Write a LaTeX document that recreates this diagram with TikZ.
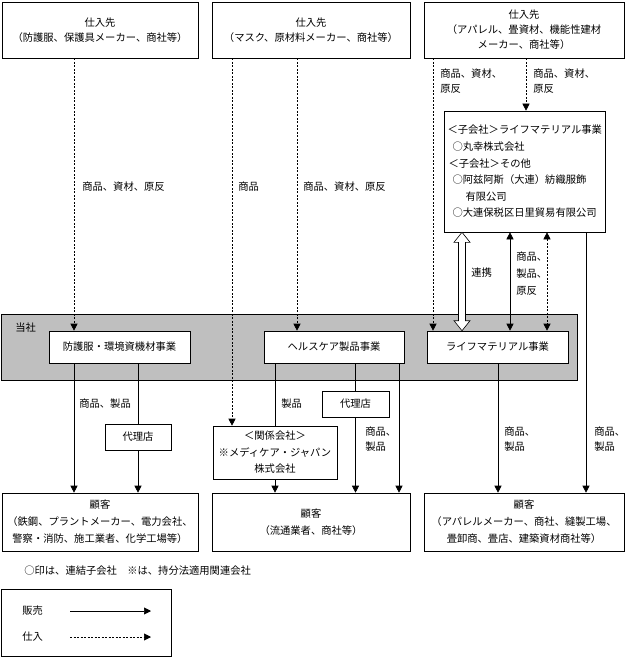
\documentclass[tikz,border=0pt]{standalone}
\usepackage{fontspec}
\setmainfont{Noto Sans CJK JP}
\usetikzlibrary{arrows.meta,calc}

\tikzset{
  box/.style={draw, fill=white, align=center, inner sep=1pt},
  biz/.style={box, minimum height=32pt},
  sell/.style={-{Triangle[length=7pt,width=7pt]}},
  buy/.style={-{Triangle[length=7pt,width=7pt]}, dash pattern=on 2pt off 1.5pt},
  sellboth/.style={{Triangle[length=7pt,width=7pt]}-{Triangle[length=7pt,width=7pt]}},
  buyboth/.style={sellboth, dash pattern=on 2pt off 1.5pt},
  lbl/.style={anchor=west, inner sep=0, align=left},
}

\begin{document}
\begin{tikzpicture}[x=1pt,y=-1pt,line width=0.6pt,font=\fontsize{10.3}{15}\selectfont]
	\useasboundingbox (0,0) rectangle (626,658);

	% Suppliers
	\node[box,minimum width=196pt,minimum height=56pt] (sup1) at (100,30) {仕入先\\（防護服、保護具メーカー、商社等）};
	\node[box,minimum width=198pt,minimum height=56pt] (sup2) at (311,30) {仕入先\\（マスク、原材料メーカー、商社等）};
	\node[box,minimum width=200pt,minimum height=56pt] (sup3) at (524,30) {仕入先\\（アパレル、畳資材、機能性建材\\メーカー、商社等）};

	% Subsidiaries
	\node[box,align=left,text width=155pt,inner xsep=3pt,minimum height=121pt,font=\fontsize{10.3}{16.6}\selectfont] (sub) at (525,171.5)
		{＜子会社＞ライフマテリアル事業\\
		 \hspace*{5pt}○丸幸株式会社\\
		 \hspace*{1pt}＜子会社＞その他\\
		 \hspace*{5pt}○阿兹阿斯（大連）紡織服飾\\
		 \hspace*{18pt}有限公司\\
		 \hspace*{5pt}○大連保税区日里貿易有限公司};

	% Company
	\node[draw,fill=gray!50,minimum width=576pt,minimum height=66pt,inner sep=0] (band) at (289,347) {};
	\node[lbl] (us) at (15,328) {当社};
	\node[biz,minimum width=141pt] (prot) at (119.5,347) {防護服・環境資機材事業};
	\node[biz,minimum width=140pt] (hc) at (334,347) {ヘルスケア製品事業};
	\node[biz,minimum width=141pt] (lm) at (497.5,347) {ライフマテリアル事業};

	% Agents and affiliate
	\node[box,minimum width=66pt,minimum height=26pt] (ag1) at (138,437) {代理店};
	\node[box,minimum width=67pt,minimum height=26pt] (ag2) at (355.5,404) {代理店};
	\node[box,minimum width=124pt,minimum height=53pt,font=\fontsize{10.3}{16.5}\selectfont] (rel) at (275,452.5) {＜関係会社＞\\※メディケア・ジャパン\\株式会社};

	% Customers
	\begin{scope}[font=\fontsize{10.3}{17}\selectfont]
		\node[box,minimum width=196pt,minimum height=58pt] (cus1) at (100,522) {顧客\\（鉄鋼、プラントメーカー、電力会社、\\警察・消防、施工業者、化学工場等）};
		\node[box,minimum width=198pt,minimum height=58pt] (cus2) at (311,522) {顧客\\（流通業者、商社等）};
		\node[box,minimum width=200pt,minimum height=58pt] (cus3) at (524,522) {顧客\\（アパレルメーカー、商社、縫製工場、\\畳卸商、畳店、建築資材商社等）};
	\end{scope}

	% Purchasing
	\draw[buy] (74,0 |- sup1.south) -- (74,0 |- prot.north);
	\draw[buy] (232,0 |- sup2.south) -- (232,0 |- rel.north);
	\draw[buy] (297,0 |- sup2.south) -- (297,0 |- hc.north);
	\draw[buy] (433,0 |- sup3.south) -- (433,0 |- lm.north);
	\draw[buy] (526,0 |- sup3.south) -- (526,0 |- sub.north);
	\node[lbl] (lb1) at (82,187) {商品、資材、原反};
	\node[lbl] (lb2) at (238,187) {商品};
	\node[lbl] (lb3) at (303,187) {商品、資材、原反};
	\node[lbl] (lb4) at (440,81) {商品、資材、\\原反};
	\node[lbl] (lb5) at (533,81) {商品、資材、\\原反};

	% Links with subsidiaries
	\coordinate (ot) at (462,0 |- sub.south);
	\coordinate (ob) at (462,0 |- lm.north);
	\draw[fill=white,line join=miter] (ot) -- ++(8,10) -- ++(-4.5,0) -- ($(ob)+(3.5,-10)$) -- ++(4.5,0) -- (ob)
		-- ++(-8,-10) -- ++(4.5,0) -- ($(ot)+(-3.5,10)$) -- ++(-4.5,0) -- cycle;
	\draw[sellboth] (510,0 |- sub.south) -- (510,0 |- lm.north);
	\draw[buyboth] (547,0 |- sub.south) -- (547,0 |- lm.north);
	\node[lbl] (lb6) at (471,273) {連携};
	\node[lbl,font=\fontsize{10.3}{17}\selectfont] (lb7) at (516,274) {商品、\\製品、\\原反};

	% Sales
	\draw[sell] (74,0 |- prot.south) -- (74,0 |- cus1.north);
	\draw (138,0 |- prot.south) -- (ag1.north);
	\draw[sell] (ag1.south) -- (ag1.south |- cus1.north);
	\draw (275,0 |- hc.south) -- (rel.north);
	\draw[sell] (rel.south) -- (rel.south |- cus2.north);
	\draw (355.5,0 |- hc.south) -- (ag2.north);
	\draw[sell] (ag2.south) -- (ag2.south |- cus2.north);
	\draw[sell] (399,0 |- hc.south) -- (399,0 |- cus2.north);
	\draw[sell] (498,0 |- lm.south) -- (498,0 |- cus3.north);
	\draw[sell] (586,0 |- sub.south) -- (586,0 |- cus3.north);
	\node[lbl] (lb8) at (79,404) {商品、製品};
	\node[lbl] (lb9) at (281,404) {製品};
	\node[lbl] (lb10) at (365,439.5) {商品、\\製品};
	\node[lbl] (lb11) at (504,439.5) {商品、\\製品};
	\node[lbl] (lb12) at (594,439.5) {商品、\\製品};

	% Note and legend
	\node[lbl] (note) at (24,571) {○印は、連結子会社　※は、持分法適用関連会社};
	\node[draw,minimum width=170pt,minimum height=67pt,inner sep=0] (legend) at (86,622.5) {};
	\node[lbl] (sale) at (22,611) {販売};
	\node[lbl] (purch) at (22,637) {仕入};
	\coordinate (s1) at (70,611);
	\coordinate (s2) at (151,611);
	\coordinate (p1) at (70,637);
	\coordinate (p2) at (151,637);
	\draw[sell] (s1) -- (s2);
	\draw[buy] (p1) -- (p2);
\end{tikzpicture}
\end{document}
